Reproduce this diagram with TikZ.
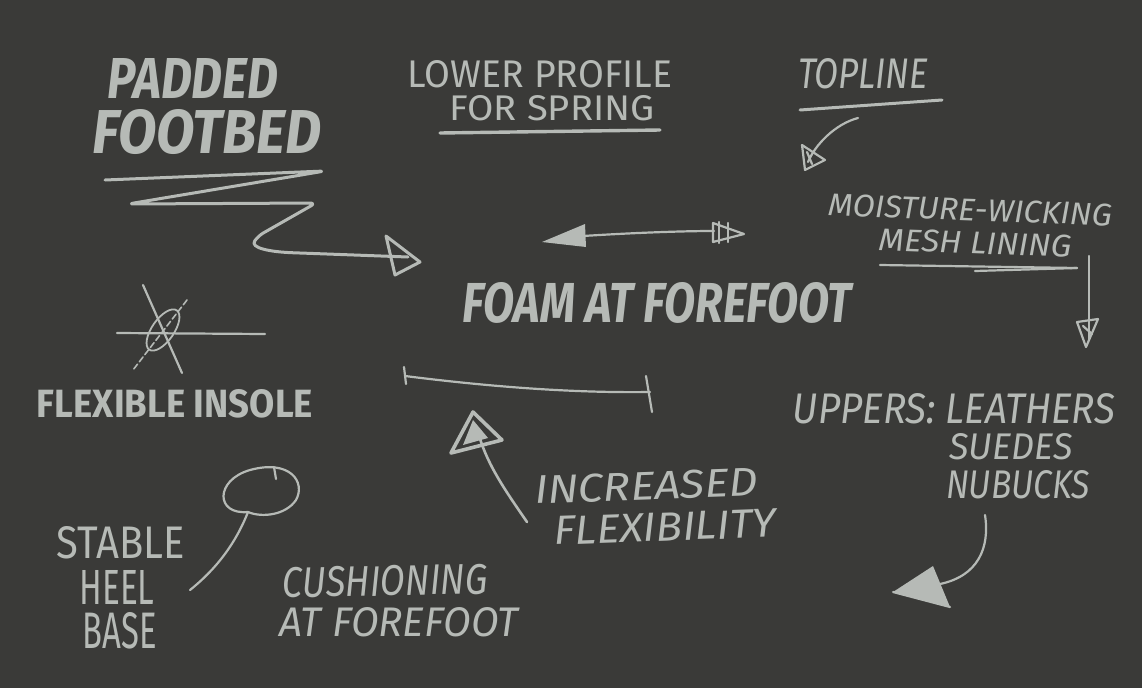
\documentclass[tikz,border=0pt]{standalone}
\usepackage{graphicx}
\usepackage{fontspec}
\setmainfont{Fira Sans}
\definecolor{board}{RGB}{58,58,56}
\definecolor{chalk}{RGB}{182,186,182}
\newcommand\chalktext[3]{\resizebox{#1pt}{#2pt}{#3}}
\begin{document}
\begin{tikzpicture}[x=1pt,y=-1pt,
  chalkline/.style={draw=chalk,line width=3pt,line cap=round,line join=round},
  thinchalk/.style={draw=chalk,line width=2.2pt,line cap=round,line join=round},
  chalkfill/.style={fill=chalk},
  lbl/.style={inner sep=0pt,outer sep=0pt,text=chalk,anchor=center}]
\useasboundingbox (0,0) rectangle (1142,688);
\fill[board] (0,0) rectangle (1142,688);

% ---------- labels ----------
\node[lbl] (padded) at (193,78) {\chalktext{170}{40}{\bfseries\itshape PADDED}};
\node[lbl] (footbed) at (207,132) {\chalktext{229}{44}{\bfseries\itshape FOOTBED}};
\node[lbl] (lower) at (540,74) {\chalktext{264}{27}{LOWER PROFILE}};
\node[lbl] (spring) at (552,108) {\chalktext{205}{25}{FOR SPRING}};
\node[lbl] (topline) at (863,74) {\chalktext{130}{30}{\itshape TOPLINE}};
\node[lbl,rotate=-2] (moisture) at (970,210) {\chalktext{284}{22}{\itshape MOISTURE-WICKING}};
\node[lbl,rotate=-2] (mesh) at (975,243) {\chalktext{193}{22}{\itshape MESH LINING}};
\node[lbl] (foam) at (657,303) {\chalktext{389}{40}{\bfseries\itshape FOAM AT FOREFOOT}};
\node[lbl] (insole) at (175,404) {\chalktext{276}{28}{\bfseries FLEXIBLE INSOLE}};
\node[lbl] (uppers) at (954,409) {\chalktext{322}{30}{\itshape UPPERS: LEATHERS}};
\node[lbl] (suedes) at (1011,447) {\chalktext{123}{26}{\itshape SUEDES}};
\node[lbl] (nubucks) at (1018,485) {\chalktext{144}{28}{\itshape NUBUCKS}};
\node[lbl,rotate=2] (increased) at (646,486) {\chalktext{223}{28}{\itshape INCREASED}};
\node[lbl,rotate=2] (flexibility) at (665,527) {\chalktext{222}{28}{\itshape FLEXIBILITY}};
\node[lbl] (stable) at (121,543) {\chalktext{128}{32}{STABLE}};
\node[lbl] (heel) at (117,587) {\chalktext{75}{34}{HEEL}};
\node[lbl] (base) at (120,631) {\chalktext{74}{36}{BASE}};
\node[lbl,rotate=1] (cushioning) at (385,581) {\chalktext{205}{30}{\itshape CUSHIONING}};
\node[lbl] (atfore) at (399,622) {\chalktext{238}{29}{\itshape AT FOREFOOT}};

% ---------- coordinates ----------
\coordinate (sqA) at (105,180);
\coordinate (sqEnd) at (408,257);
\coordinate (topA) at (858,118);
\coordinate (topB) at (808,162);
\coordinate (meshA) at (1089,256);
\coordinate (meshB) at (1089,340);
\coordinate (dblA) at (583,236);
\coordinate (dblB) at (714,231);
\coordinate (brA) at (405,376);
\coordinate (brB) at (650,392);
\coordinate (incA) at (527,522);
\coordinate (incB) at (477,428);
\coordinate (upA) at (985,515);
\coordinate (upB) at (940,584);
\coordinate (heelA) at (190,590);
\coordinate (heelB) at (248,512);

% ---------- padded footbed squiggle ----------
\draw[chalkline,rounded corners=6pt] (sqA) -- (325,171) -- (128,204) -- (316,203) -- (258,236)
  .. controls (250,248) and (270,252) .. (300,253) -- (sqEnd);
\draw[chalkline] (386,236) -- (420,262) -- (395,275) -- cycle;

% ---------- underlines ----------
\draw[chalkline,line width=3.4pt] (440,133) -- (660,130);
\draw[chalkline] (800,110) -- (942,100);
\draw[thinchalk] (880,265) -- (1077,268);
\draw[thinchalk] (975,271) -- (1077,268);

% ---------- topline arrow ----------
\draw[thinchalk] (topA) .. controls (835,124) and (815,145) .. (topB);
\draw[thinchalk] (802,145) -- (825,160) -- (805,170) -- cycle;
\draw[thinchalk] (807,152) -- (812,164);

% ---------- moisture arrow ----------
\draw[thinchalk] (meshA) -- (meshB);
\draw[thinchalk] (1077,322) -- (1098,319) -- (1086,347) -- cycle;
\draw[thinchalk] (1083,326) -- (1092,334);

% ---------- double arrow ----------
\draw[thinchalk] (dblA) .. controls (630,233) and (680,231) .. (dblB);
\fill[chalkfill] (542,242) -- (585,224) -- (586,247) -- cycle;
\draw[thinchalk] (713,223) -- (744,234) -- (713,242) -- cycle;
\draw[thinchalk] (719,222) -- (719,243);
\draw[thinchalk] (728,223) -- (728,242);

% ---------- bracket ----------
\draw[thinchalk] (brA) .. controls (500,388) and (580,393) .. (brB);
\draw[thinchalk] (404,367) -- (406,384);
\draw[thinchalk] (646,376) -- (652,412);

% ---------- flexible insole symbol ----------
\draw[thinchalk] (117,333) -- (265,334);
\draw[thinchalk] (143,285) -- (182,373);
\draw[thinchalk,line width=1.6pt,dash pattern=on 6pt off 3pt] (187,300) -- (133,370);
\draw[thinchalk,line width=1.8pt,rotate around={55:(163,330)}] (163,330) ellipse [x radius=24, y radius=11];

% ---------- increased flexibility arrow ----------
\draw[chalkline,line width=2.6pt] (incA) .. controls (505,490) and (485,462) .. (incB);
\draw[chalkline,line width=3.6pt] (473,412) -- (451,453) -- (502,440) -- cycle;
\fill[chalkfill] (473,420) -- (463,445) -- (488,438) -- cycle;

% ---------- uppers arrow ----------
\draw[thinchalk] (upA) .. controls (990,548) and (978,576) .. (upB);
\fill[chalkfill] (893,592) -- (933,566) -- (950,607) -- cycle;
\draw[thinchalk] (893,592) -- (950,607);

% ---------- stable heel loop ----------
\draw[thinchalk] (heelB) .. controls (215,515) and (215,480) .. (250,470)
  .. controls (290,459) and (306,482) .. (296,500)
  .. controls (286,515) and (262,518) .. (heelB);
\draw[thinchalk] (274,467) -- (276,479);
\draw[thinchalk] (heelB) .. controls (235,545) and (215,570) .. (heelA);
\end{tikzpicture}
\end{document}
